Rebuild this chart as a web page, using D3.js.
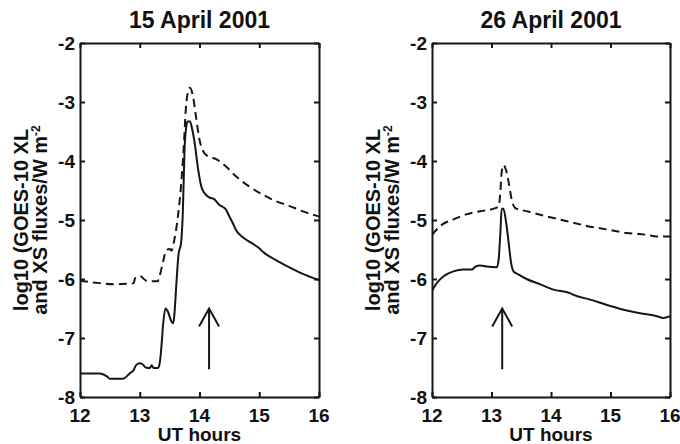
<!DOCTYPE html>
<html lang="en">
<head>
  <meta charset="utf-8">
  <title>GOES-10 X-ray fluxes</title>
  <script src="https://d3js.org/d3.v7.min.js"></script>
  <style>
    body { margin: 0; background: #fff; }
    svg text { font-family: 'Liberation Sans', Arial, Helvetica, sans-serif; font-weight: bold; fill: #111; }
  </style>
</head>
<body>
<svg width="680" height="444"></svg>
<script>
// 15 April 2001 - solid (XL) and dashed (XS) log10 fluxes
var t15xl = [12.0, 12.33, 12.45, 12.5, 12.72, 12.76, 12.83, 12.9, 12.94, 13.0, 13.05, 13.1, 13.17, 13.2, 13.23, 13.3, 13.33, 13.36, 13.39, 13.43, 13.47, 13.53, 13.56, 13.58, 13.61, 13.65, 13.69, 13.72, 13.75, 13.78, 13.8, 13.84, 13.88, 13.92, 13.97, 14.03, 14.08, 14.17, 14.25, 14.33, 14.44, 14.5, 14.56, 14.61, 14.72, 14.89, 15.0, 15.06, 15.28, 15.5, 15.72, 16.0];
var xl15  = [-7.6, -7.6, -7.65, -7.69, -7.69, -7.67, -7.6, -7.54, -7.46, -7.43, -7.45, -7.5, -7.51, -7.46, -7.51, -7.51, -7.45, -7.18, -6.78, -6.5, -6.55, -6.72, -6.75, -6.6, -6.13, -5.57, -5.4, -4.9, -3.8, -3.41, -3.33, -3.33, -3.47, -3.7, -4.09, -4.43, -4.54, -4.62, -4.65, -4.74, -4.82, -4.94, -5.06, -5.17, -5.29, -5.4, -5.48, -5.54, -5.68, -5.8, -5.91, -6.02];
var t15xs = [12.0, 12.33, 12.56, 12.78, 12.9, 12.92, 13.0, 13.11, 13.22, 13.3, 13.33, 13.39, 13.44, 13.5, 13.53, 13.58, 13.64, 13.69, 13.74, 13.77, 13.81, 13.84, 13.89, 13.94, 14.0, 14.06, 14.14, 14.28, 14.44, 14.61, 14.83, 15.06, 15.28, 15.5, 15.72, 16.0];
var xs15  = [-6.03, -6.07, -6.09, -6.08, -6.07, -5.99, -5.95, -6.03, -6.04, -6.04, -5.96, -5.71, -5.52, -5.49, -5.52, -5.33, -4.93, -4.43, -3.7, -3.13, -2.82, -2.76, -2.9, -3.24, -3.64, -3.83, -3.92, -3.97, -4.09, -4.26, -4.43, -4.57, -4.68, -4.76, -4.85, -4.94];

// 26 April 2001
var t26xl = [12.0, 12.08, 12.2, 12.36, 12.53, 12.67, 12.73, 12.81, 12.92, 13.09, 13.12, 13.15, 13.17, 13.2, 13.24, 13.29, 13.33, 13.37, 13.45, 13.59, 13.82, 14.04, 14.32, 14.38, 14.66, 14.94, 15.22, 15.5, 15.78, 15.89, 16.0];
var xl26  = [-6.2, -6.07, -5.95, -5.87, -5.84, -5.84, -5.79, -5.77, -5.79, -5.8, -5.67, -5.2, -4.81, -4.81, -5.0, -5.4, -5.73, -5.87, -5.92, -6.0, -6.09, -6.18, -6.24, -6.27, -6.35, -6.44, -6.52, -6.58, -6.63, -6.66, -6.63];
var t26xs = [12.0, 12.14, 12.36, 12.59, 12.81, 13.03, 13.12, 13.15, 13.17, 13.2, 13.24, 13.29, 13.34, 13.4, 13.59, 13.93, 14.27, 14.6, 14.94, 15.27, 15.6, 15.78, 16.0];
var xs26  = [-5.25, -5.1, -4.99, -4.9, -4.85, -4.81, -4.77, -4.51, -4.2, -4.07, -4.14, -4.37, -4.66, -4.8, -4.85, -4.94, -5.02, -5.1, -5.16, -5.22, -5.25, -5.28, -5.28];

var titles = ['15 April 2001', '26 April 2001'];
var arrowHour = [14.16, 13.18];
var xTicks = [12, 13, 14, 15, 16];
var yTicks = [-2, -3, -4, -5, -6, -7, -8];
var xTickLabels = ['12', '13', '14', '15', '16'];
var yTickLabels = ['-2', '-3', '-4', '-5', '-6', '-7', '-8'];

var svg = d3.select('svg');
var top_ = 43, bottom = 397;
var ink = '#161616';

function drawPanel(left, right, title, tXL, vXL, tXS, vXS, arrowT) {
  var x = d3.scaleLinear().domain([12, 16]).range([left, right]);
  var y = d3.scaleLinear().domain([-8, -2]).range([bottom, top_]);
  var g = svg.append('g');

  var id = 'clip' + left;
  g.append('clipPath').attr('id', id)
    .append('rect').attr('x', left).attr('y', top_).attr('width', right - left).attr('height', bottom - top_);

  var line = d3.line().x(function(d) { return x(d[0]); }).y(function(d) { return y(d[1]); }).curve(d3.curveMonotoneX);

  g.append('path')
    .datum(d3.zip(tXS, vXS))
    .attr('d', line)
    .attr('clip-path', 'url(#' + id + ')')
    .attr('fill', 'none').attr('stroke', ink).attr('stroke-width', 2)
    .attr('stroke-dasharray', '8,5');

  g.append('path')
    .datum(d3.zip(tXL, vXL))
    .attr('d', line)
    .attr('clip-path', 'url(#' + id + ')')
    .attr('fill', 'none').attr('stroke', ink).attr('stroke-width', 2);

  // box with inward ticks on all four sides
  var axB = g.append('g').attr('transform', 'translate(0,' + bottom + ')')
    .call(d3.axisBottom(x).tickValues(xTicks).tickSizeInner(-5).tickSizeOuter(0).tickFormat(''));
  var axT = g.append('g').attr('transform', 'translate(0,' + top_ + ')')
    .call(d3.axisTop(x).tickValues(xTicks).tickSizeInner(-5).tickSizeOuter(0).tickFormat(''));
  var axL = g.append('g').attr('transform', 'translate(' + left + ',0)')
    .call(d3.axisLeft(y).tickValues(yTicks).tickSizeInner(-5).tickSizeOuter(0).tickFormat(''));
  var axR = g.append('g').attr('transform', 'translate(' + right + ',0)')
    .call(d3.axisRight(y).tickValues(yTicks).tickSizeInner(-5).tickSizeOuter(0).tickFormat(''));

  [axB, axT, axL, axR].forEach(function(a) {
    a.selectAll('path.domain').attr('stroke', ink).attr('stroke-width', 2);
    a.selectAll('.tick line').attr('stroke', ink).attr('stroke-width', 2);
  });

  // tick labels
  g.selectAll('text.xt').data(xTicks).enter().append('text')
    .attr('class', 'xt')
    .attr('x', function(d) { return x(d); }).attr('y', 422)
    .attr('text-anchor', 'middle').attr('font-size', 19)
    .text(function(d, i) { return xTickLabels[i]; });
  g.selectAll('text.yt').data(yTicks).enter().append('text')
    .attr('class', 'yt')
    .attr('x', left - 5).attr('y', function(d) { return y(d) + 7; })
    .attr('text-anchor', 'end').attr('font-size', 19)
    .text(function(d, i) { return yTickLabels[i]; });

  // title
  g.append('text').attr('x', (left + right) / 2).attr('y', 28)
    .attr('text-anchor', 'middle').attr('font-size', 23).text(title);

  // x label
  g.append('text').attr('x', (left + right) / 2).attr('y', 441)
    .attr('text-anchor', 'middle').attr('font-size', 19).text('UT hours');

  // y label, two lines
  var cy = (top_ + bottom) / 2;
  var yl = g.append('text').attr('transform', 'translate(' + (left - 52) + ',' + cy + ') rotate(-90)')
    .attr('text-anchor', 'middle').attr('font-size', 20);
  yl.append('tspan').attr('x', 0).attr('y', 0).text('log10 (GOES-10 XL');
  yl.append('tspan').attr('x', 0).attr('y', 0).attr('dy', 19).text('and XS fluxes/W m');
  yl.append('tspan').attr('font-size', 12).attr('dy', -7).text('-2');

  // arrow
  var ax = x(arrowT), ya = y(-6.5), yb = y(-7.53);
  g.append('line').attr('x1', ax).attr('x2', ax).attr('y1', yb).attr('y2', ya)
    .attr('stroke', ink).attr('stroke-width', 2);
  g.append('path')
    .attr('d', 'M' + (ax - 10) + ',' + (ya + 18) + 'L' + ax + ',' + ya + 'L' + (ax + 10) + ',' + (ya + 18))
    .attr('fill', 'none').attr('stroke', ink).attr('stroke-width', 2);
}

drawPanel(80, 319, titles[0], t15xl, xl15, t15xs, xs15, arrowHour[0]);
drawPanel(432, 670, titles[1], t26xl, xl26, t26xs, xs26, arrowHour[1]);
</script>
</body>
</html>
